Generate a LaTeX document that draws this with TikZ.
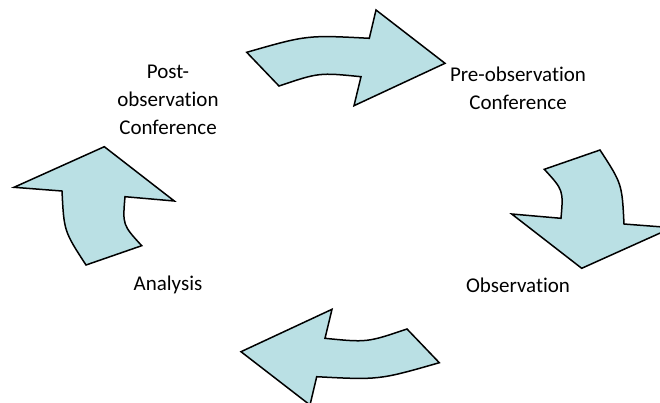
\documentclass[tikz,border=0pt]{standalone}
\usepackage{fontspec}
\setmainfont{Carlito}[Ligatures=NoCommon]
\usepackage{tikz}
\definecolor{cyclefill}{RGB}{186,224,228}
\newcommand{\drawarrow}{\draw[line width=1.5pt, line join=miter, fill=cyclefill]}
\newcommand{\stagelabel}[4]{\node[align=center, font=\fontsize{21}{28}\selectfont] (#1) at (#2,#3) {#4};}

\begin{document}
\begin{tikzpicture}[x=1pt, y=-1pt]
\useasboundingbox (0,0) rectangle (660,402);
% top: to pre-observation
\drawarrow (246.7,52.3) .. controls (307,35) .. (369.3,38.3)--(376,10)--(445,63.3)--(354,105.7)--(361,76.7) .. controls (319,72.5) .. (279,86)--cycle;
% right: down to observation
\drawarrow (544.3,169.3)--(600,150) .. controls (622,183.8) .. (624,224)--(672,227.7)--(581.7,268.3)--(511.7,214)--(561,218.3) .. controls (563.4,190.1) .. (544.3,169.3)--cycle;
% bottom: to analysis
\drawarrow (439.3,362.7) .. controls (379,380) .. (316.7,376.7)--(310,405)--(241,351.7)--(332,309.3)--(325,338.3) .. controls (367,342.5) .. (407,329)--cycle;
% left: up to post-observation
\drawarrow (141.7,245.7)--(86,265) .. controls (64,231.2) .. (62,191)--(14,187.3)--(104.3,146.7)--(174.3,201)--(125,196.7) .. controls (122.6,224.9) .. (141.7,245.7)--cycle;
\stagelabel{pre}{518}{88}{Pre-observation\\Conference}
\stagelabel{post}{168}{100}{Post-\\observation\\Conference}
\stagelabel{obs}{518}{285}{Observation}
\stagelabel{ana}{168}{285}{Analysis}
\end{tikzpicture}
\end{document}
